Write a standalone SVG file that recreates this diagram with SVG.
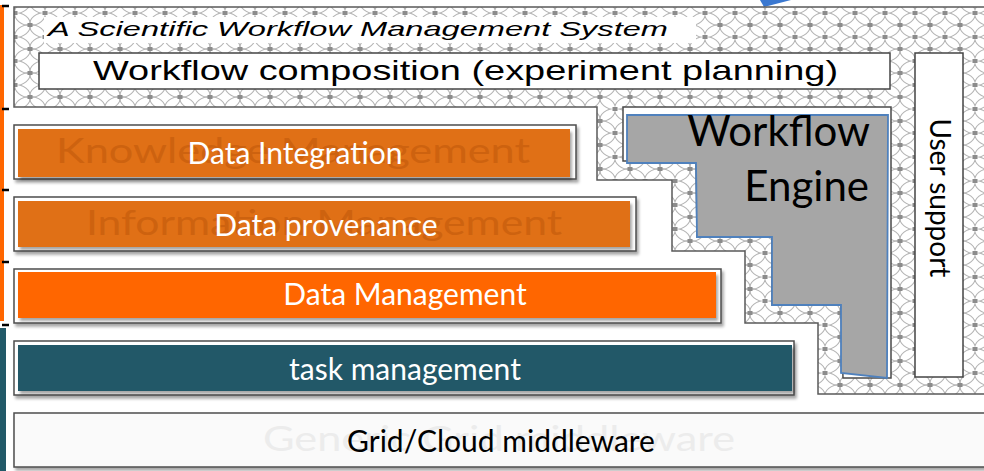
<svg xmlns="http://www.w3.org/2000/svg" width="984" height="471" viewBox="0 0 984 471">
  <style>
    .arial { font-family: "Liberation Sans", Arial, sans-serif; fill: #000; }
    .cal { font-family: Lato, "Open Sans", sans-serif; }
    .lbl { font-size: 30px; fill: #fff; text-anchor: middle; }
    .ghost { font-size: 35px; text-anchor: middle; }
    .frame { fill: #fff; stroke: #4d4d4d; stroke-width: 1.5; }
    .tick { stroke: #000; stroke-width: 2.5; }
  </style>
  <defs>
    <pattern id="lattice" patternUnits="userSpaceOnUse" x="15" y="13" width="30" height="24">
      <rect width="30" height="24" fill="#fff"/>
      <g fill="none" stroke="#b4b4b4" stroke-width="1.1">
        <ellipse cx="15" cy="0" rx="15.5" ry="12.5"/>
        <ellipse cx="0" cy="12" rx="15.5" ry="12.5"/>
        <ellipse cx="30" cy="12" rx="15.5" ry="12.5"/>
        <ellipse cx="15" cy="24" rx="15.5" ry="12.5"/>
      </g>
      <g fill="#8c8c8c">
        <rect x="-2.5" y="-2" width="5" height="4"/>
        <rect x="27.5" y="-2" width="5" height="4"/>
        <rect x="12.5" y="10" width="5" height="4"/>
        <rect x="-2.5" y="22" width="5" height="4"/>
        <rect x="27.5" y="22" width="5" height="4"/>
      </g>
    </pattern>
    <filter id="shadow" x="-5%" y="-20%" width="110%" height="150%">
      <feDropShadow dx="2" dy="3" stdDeviation="1.8" flood-color="#000" flood-opacity="0.35"/>
    </filter>
  </defs>

  <!-- side brackets -->
  <g id="side-bars">
    <rect x="0" y="5" width="4" height="316" fill="#ff6600"/>
    <rect x="0" y="328" width="6" height="143" fill="#215968"/>
    <line class="tick" x1="2" y1="6" x2="9" y2="6"/>
    <line class="tick" x1="2" y1="109" x2="9" y2="109"/>
    <line class="tick" x1="2" y1="190" x2="9" y2="190"/>
    <line class="tick" x1="2" y1="262" x2="9" y2="262"/>
    <line class="tick" x1="2" y1="325" x2="9" y2="325"/>
  </g>

  <!-- arrowhead tip entering from above -->
  <polygon points="760,0 791,0 764,7" fill="#3b78d0"/>

  <!-- workflow management system frame -->
  <g id="wms">
    <polygon points="14,7 990,7 990,394 818,394 818,323 745,323 745,251 672,251 672,180 597,180 597,107 14,107"
             fill="url(#lattice)" stroke="#5a5a5a" stroke-width="1.5"/>
    <rect x="44" y="17" width="652" height="26" fill="#fff"/>
    <text class="arial" x="48" y="36" font-size="21" font-style="italic" textLength="620" lengthAdjust="spacingAndGlyphs">A Scientific Workflow Management System</text>
  </g>

  <g id="composition">
    <rect x="39" y="53" width="851" height="36" fill="#fff" stroke="#444" stroke-width="1.5"/>
    <text class="arial" x="93" y="80" font-size="28" textLength="745" lengthAdjust="spacingAndGlyphs">Workflow composition (experiment planning)</text>
  </g>

  <g id="user-support">
    <rect x="915" y="53" width="48" height="324" fill="#fff" stroke="#444" stroke-width="1.5"/>
    <text class="cal" transform="translate(930,198) rotate(90)" font-size="28" text-anchor="middle" fill="#000">User support</text>
  </g>

  <g id="workflow-engine">
    <polygon points="623,107 891,107 891,378 843,378 841,305 772,305 772,237 697,237 696,161 623,161" fill="#fff" stroke="#4a4a4a" stroke-width="1.5"/>
    <polygon points="627,115 888,115 887,378 841,373 841,305 772,305 772,237 697,237 696,163 627,163" fill="#a6a6a6" stroke="#4f81bd" stroke-width="1.8"/>
    <text class="cal" x="870" y="146" font-size="42" text-anchor="end" fill="#000">Workflow</text>
    <text class="cal" x="869" y="201" font-size="42" text-anchor="end" fill="#000">Engine</text>
  </g>

  <g id="data-integration">
    <rect class="frame" x="14" y="125" width="562" height="54" filter="url(#shadow)"/>
    <rect x="18" y="129" width="552" height="48" fill="#e07014" filter="url(#shadow)"/>
    <text class="cal ghost" x="293" y="163" fill="#cd620f" textLength="474" lengthAdjust="spacingAndGlyphs">Knowledge Management</text>
    <text class="cal lbl" x="295" y="164">Data Integration</text>
  </g>

  <g id="data-provenance">
    <rect class="frame" x="14" y="197" width="622" height="54" filter="url(#shadow)"/>
    <rect x="18" y="201" width="612" height="46" fill="#e07014" filter="url(#shadow)"/>
    <text class="cal ghost" x="324" y="235" fill="#cd620f" textLength="476" lengthAdjust="spacingAndGlyphs">Information Management</text>
    <text class="cal lbl" x="326" y="236">Data provenance</text>
  </g>

  <g id="data-management">
    <rect class="frame" x="14" y="269" width="707" height="54" filter="url(#shadow)"/>
    <rect x="18" y="272" width="698" height="46" fill="#ff6600" filter="url(#shadow)"/>
    <text class="cal lbl" x="405" y="305">Data Management</text>
  </g>

  <g id="task-management">
    <rect class="frame" x="14" y="341" width="780" height="54" filter="url(#shadow)"/>
    <rect x="18" y="345" width="774" height="46" fill="#215968" filter="url(#shadow)"/>
    <text class="cal lbl" x="405" y="380">task management</text>
  </g>

  <g id="middleware">
    <rect x="14" y="413" width="980" height="54" fill="#fafafa" stroke="#4d4d4d" stroke-width="1.5" filter="url(#shadow)"/>
    <text class="cal ghost" x="499" y="451" fill="#ececec" textLength="472" lengthAdjust="spacingAndGlyphs">Generic Grid middleware</text>
    <text class="cal" x="501" y="452" font-size="30" text-anchor="middle" fill="#000">Grid/Cloud middleware</text>
  </g>
</svg>
